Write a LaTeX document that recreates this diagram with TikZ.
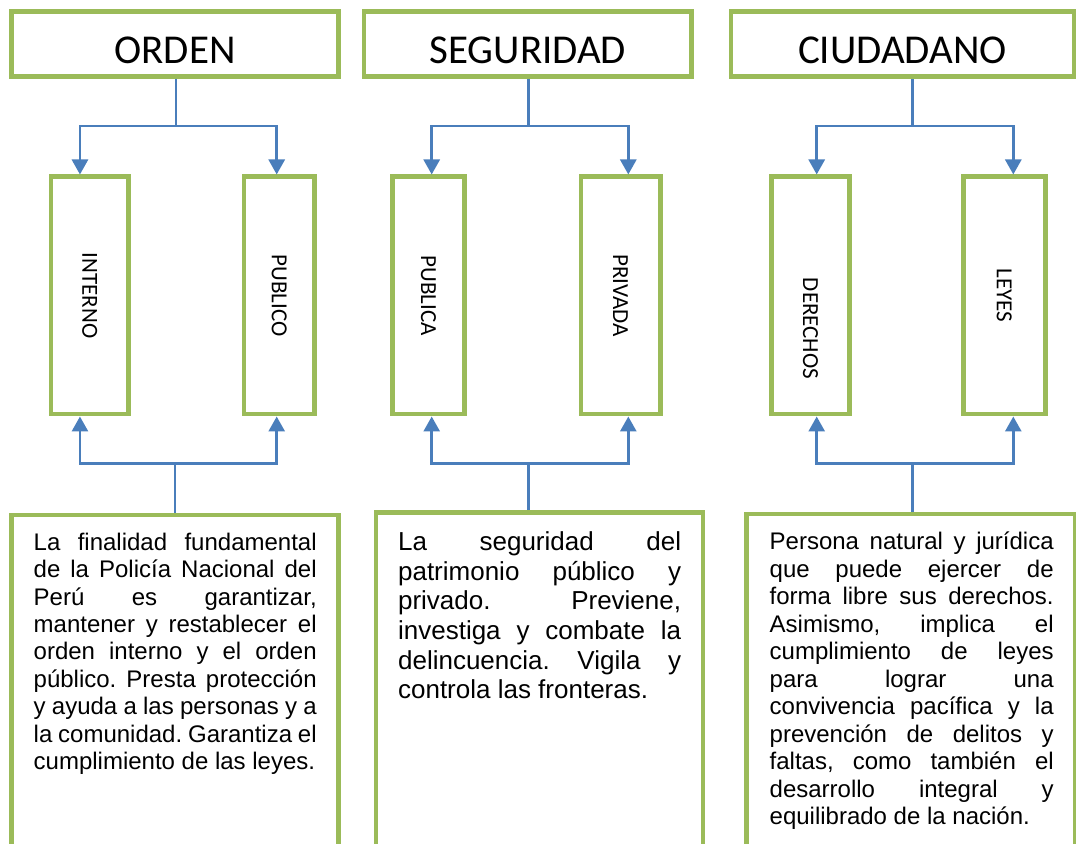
\documentclass[tikz,border=0pt]{standalone}
\usepackage{fontspec}
\setmainfont{Liberation Sans}
\newfontfamily\calibri{Carlito}
\usepackage{xcolor}
\usetikzlibrary{arrows.meta}
\hyphenpenalty=10000
\exhyphenpenalty=10000
\tolerance=10000
\hbadness=10000
\frenchspacing
\definecolor{boxgreen}{RGB}{155,187,89}
\definecolor{linkblue}{RGB}{74,126,187}
\tikzset{
  titlebox/.style={draw=boxgreen,line width=2.3pt,minimum height=32.5pt,inner sep=0pt,text height=19.5pt,text depth=0pt,font=\calibri\fontsize{20.5}{24}\selectfont},
  vbox/.style={draw=boxgreen,line width=2.3pt,minimum height=118.7pt,inner sep=0pt,font=\calibri\fontsize{11.5}{14}\selectfont},
  frame/.style={draw=boxgreen,line width=2.3pt,minimum height=200pt,inner sep=0pt,anchor=north},
  body/.style={anchor=north west,inner sep=0pt,align=justify},
  link/.style={draw=linkblue,line width=1.4pt},
  linkarr/.style={link,-{Triangle[length=7.5pt,width=8pt]}}
}
\newcommand{\vlab}[1]{\rotatebox{-90}{#1}}

\begin{document}
\frenchspacing
\begin{tikzpicture}[x=0.5pt,y=-0.5pt]
\useasboundingbox (0,0) rectangle (1076,844);
\clip (0,0) rectangle (1076,844);
% titles
\node[titlebox,minimum width=163.3pt] (orden) at (175,44.2) {ORDEN};
\node[titlebox,minimum width=163.85pt] (seguridad) at (527.8,44.2) {SEGURIDAD};
\node[titlebox,minimum width=171.5pt] (ciudadano) at (902.4,44.2) {CIUDADANO};
% vertical boxes
\node[vbox,minimum width=38.95pt] (interno) at (89.75,295.5) {\vlab{INTERNO}};
\node[vbox,minimum width=35.15pt] (publico) at (279.3,295.5) {\vlab{PUBLICO}};
\node[vbox,minimum width=36pt] (publica) at (428.5,295.5) {\vlab{PUBLICA}};
\node[vbox,minimum width=39.7pt] (privada) at (620.5,295.5) {\vlab{PRIVADA}};
\node[vbox,minimum width=38.8pt] (derechos) at (810.5,295.5) {\vlab{\hspace*{33pt}DERECHOS}};
\node[vbox,minimum width=41pt] (leyes) at (1004.2,295.5) {\vlab{LEYES}};
% text frames
\node[frame,minimum width=163.3pt] (ordenfr) at (175,512.7) {};
\node[frame,minimum width=163.6pt] (segfr) at (539.4,510) {};
\node[frame,minimum width=164.15pt] (ciudfr) at (910.85,511.7) {};
\node[body,text width=141.5pt,font=\fontsize{12}{13.7}\selectfont] (ordentxt) at (33.3,532.5) {La finalidad fundamental\linebreak
de la Policía Nacional del\linebreak
Perú es garantizar,\linebreak
mantener y restablecer el\linebreak
orden interno y el orden\linebreak
público. Presta protección\linebreak
y ayuda a las personas y a\linebreak
la comunidad. Garantiza el\linebreak
cumplimiento de las leyes.};
\node[body,text width=141.5pt,font=\fontsize{13}{14.8}\selectfont] (segtxt) at (397.7,531.5) {La seguridad del\linebreak
patrimonio público y\linebreak
privado. Previene,\linebreak
investiga y combate la\linebreak
delincuencia. Vigila y\linebreak
controla las fronteras.};
\node[body,text width=142pt,font=\fontsize{12}{13.75}\selectfont] (ciudtxt) at (769.3,531.5) {Persona natural y jurídica\linebreak
que puede ejercer de\linebreak
forma libre sus derechos.\linebreak
Asimismo, implica el\linebreak
cumplimiento de leyes\linebreak
para lograr una\linebreak
convivencia pacífica y la\linebreak
prevención de delitos y\linebreak
faltas, como también el\linebreak
desarrollo integral y\linebreak
equilibrado de la nación.};
% junctions
\coordinate (o-up) at (176,126);
\coordinate (o-dn) at (175,463.3);
\coordinate (s-up) at (528.3,126);
\coordinate (s-dn) at (528.3,463.3);
\coordinate (c-up) at (912.3,126);
\coordinate (c-dn) at (912.3,463.3);
% connectors
\draw[link] (orden.south -| o-up) -- (o-up);
\draw[linkarr] (o-up) -| ([xshift=-4.9pt]interno.north);
\draw[linkarr] (o-up) -| ([xshift=-1.3pt]publico.north);
\draw[link] (ordenfr.north -| o-dn) -- (o-dn);
\draw[linkarr] (o-dn) -| ([xshift=-4.9pt]interno.south);
\draw[linkarr] (o-dn) -| ([xshift=-1.3pt]publico.south);
\draw[link] (seguridad.south -| s-up) -- (s-up);
\draw[linkarr] (s-up) -| ([xshift=1.6pt]publica.north);
\draw[linkarr] (s-up) -| ([xshift=3.9pt]privada.north);
\draw[link] (segfr.north -| s-dn) -- (s-dn);
\draw[linkarr] (s-dn) -| ([xshift=1.6pt]publica.south);
\draw[linkarr] (s-dn) -| ([xshift=3.9pt]privada.south);
\draw[link] (ciudadano.south -| c-up) -- (c-up);
\draw[linkarr] (c-up) -| ([xshift=3.1pt]derechos.north);
\draw[linkarr] (c-up) -| ([xshift=4.55pt]leyes.north);
\draw[link] (ciudfr.north -| c-dn) -- (c-dn);
\draw[linkarr] (c-dn) -| ([xshift=3.1pt]derechos.south);
\draw[linkarr] (c-dn) -| ([xshift=4.55pt]leyes.south);
\end{tikzpicture}
\end{document}
